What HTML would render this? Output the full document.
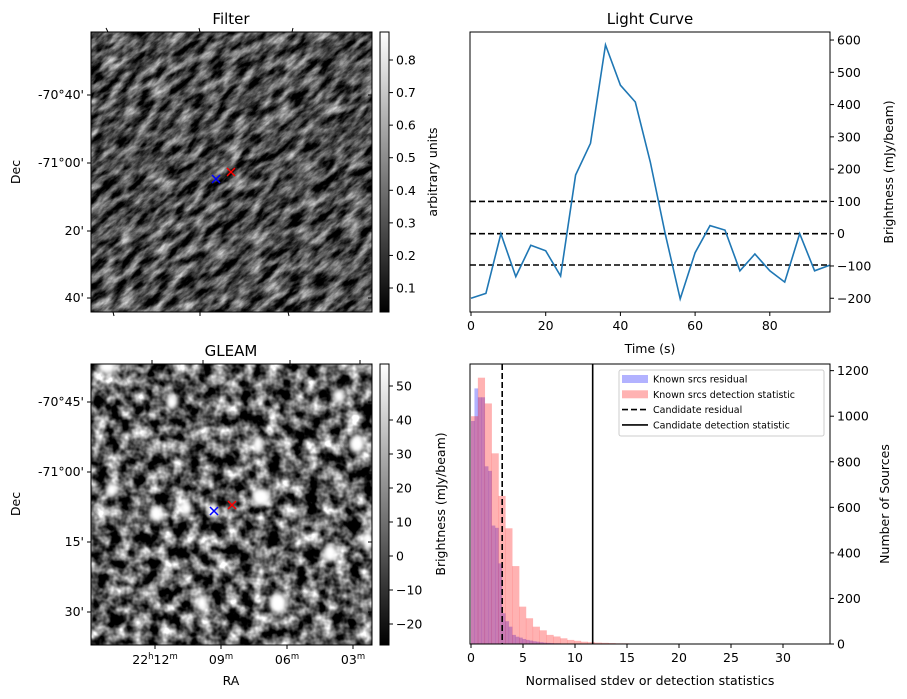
<!DOCTYPE html>
<html><head><meta charset="utf-8">
<style>
html,body{margin:0;padding:0;background:#fff;}
svg{display:block;font-family:"DejaVu Sans","Liberation Sans",sans-serif;}
</style></head>
<body>
<svg id="fig" width="907" height="699" viewBox="0 0 907 699" xmlns="http://www.w3.org/2000/svg">
<defs>
  <filter id="streaks" x="0" y="0" width="1" height="1" filterUnits="objectBoundingBox" color-interpolation-filters="sRGB">
    <feTurbulence type="fractalNoise" baseFrequency="0.05 0.13" numOctaves="4" seed="7"/>
    <feColorMatrix type="matrix" values="1.5 0 0 0 -0.45  1.5 0 0 0 -0.45  1.5 0 0 0 -0.45  0 0 0 0 1"/>
  </filter>
  <filter id="blobs" x="0" y="0" width="1" height="1" filterUnits="objectBoundingBox" color-interpolation-filters="sRGB">
    <feTurbulence type="fractalNoise" baseFrequency="0.075" numOctaves="3" seed="3"/>
    <feColorMatrix type="matrix" values="2.1 0 0 0 -0.68  2.1 0 0 0 -0.68  2.1 0 0 0 -0.68  0 0 0 0 1"/>
  </filter>
  <filter id="blur2"><feGaussianBlur stdDeviation="2.5"/></filter>
  <clipPath id="clipTop"><rect x="91" y="32" width="281" height="280"/></clipPath>
  <clipPath id="clipBot"><rect x="91" y="364" width="281" height="281"/></clipPath>
  <linearGradient id="cbar" x1="0" y1="1" x2="0" y2="0">
    <stop offset="0" stop-color="#000"/><stop offset="1" stop-color="#fff"/>
  </linearGradient>
</defs>

<g>
  <text x="231" y="24" font-size="15" text-anchor="middle">Filter</text>
  <g clip-path="url(#clipTop)">
    <rect x="91" y="32" width="281" height="280" fill="#444"/>
    <g transform="rotate(-40 231 172)">
      <rect x="-40" y="-60" width="540" height="470" filter="url(#streaks)"/>
    </g>
  </g>
  <rect x="91" y="32" width="281" height="280" fill="none" stroke="#000" stroke-width="1"/>
  <path d="M212 175 l8 8 M220 175 l-8 8" stroke="#00f" stroke-width="1.5"/>
  <path d="M227 168 l8 8 M235 168 l-8 8" stroke="#f00" stroke-width="1.5"/>
  <g font-size="12.5" text-anchor="end">
    <text x="84" y="99">-70°40'</text><text x="84" y="167">-71°00'</text>
    <text x="84" y="235">20'</text><text x="84" y="302">40'</text>
  </g>
  <g stroke="#000"><path d="M87 95h4M87 163h4M87 231h4M87 298h4M106 28l2 4M199 28l1 4M293 28l-1 4M113 312l1 4M200 312v4M288 312l1 4M368 95h4M368 163h4M368 231h4M368 298h4"/></g>
  <text transform="translate(20 172) rotate(-90)" font-size="12.5" text-anchor="middle">Dec</text>
  <rect x="380" y="32" width="9" height="280" fill="url(#cbar)" stroke="#000"/>
  <g id="cb1ticks" font-size="12.5"></g>
  <text transform="translate(437 172) rotate(-90)" font-size="12.5" text-anchor="middle">arbitrary units</text>
</g>

<g>
  <text x="231" y="356" font-size="15" text-anchor="middle">GLEAM</text>
  <g clip-path="url(#clipBot)">
    <rect x="91" y="364" width="281" height="281" fill="#555"/>
    <rect x="91" y="364" width="281" height="281" filter="url(#blobs)"/>
    <g fill="#fff" filter="url(#blur2)">
      <ellipse cx="107" cy="367" rx="9" ry="7"/><ellipse cx="172" cy="402" rx="6" ry="7"/>
      <ellipse cx="112" cy="490" rx="6" ry="7"/><ellipse cx="156" cy="514" rx="7" ry="8"/>
      <ellipse cx="186" cy="508" rx="6" ry="7"/><ellipse cx="213" cy="510" rx="5" ry="7"/>
      <ellipse cx="258" cy="444" rx="5" ry="9"/><ellipse cx="261" cy="497" rx="9" ry="9"/>
      <ellipse cx="357" cy="444" rx="8" ry="9"/><ellipse cx="339" cy="396" rx="6" ry="7"/>
      <ellipse cx="330" cy="553" rx="7" ry="9"/><ellipse cx="368" cy="541" rx="6" ry="9"/>
      <ellipse cx="278" cy="603" rx="9" ry="10"/><ellipse cx="202" cy="603" rx="6" ry="8"/>
    </g>
  </g>
  <rect x="91" y="364" width="281" height="281" fill="none" stroke="#000"/>
  <path d="M210 507 l8 8 M218 507 l-8 8" stroke="#00f" stroke-width="1.5"/>
  <path d="M228 501 l8 8 M236 501 l-8 8" stroke="#f00" stroke-width="1.5"/>
  <g font-size="12.5" text-anchor="end">
    <text x="84" y="406">-70°45'</text><text x="84" y="476">-71°00'</text>
    <text x="84" y="546">15'</text><text x="84" y="616">30'</text>
  </g>
  <g stroke="#000"><path d="M87 402h4M87 472h4M87 542h4M87 612h4M155 645v4M221 645v4M287 645v4M353 645v4M152 360v4M203 360v4M290 360v4M360 360v4M368 402h4M368 472h4M368 542h4M368 612h4"/></g>
  <g font-size="12.5" text-anchor="middle">
    <text x="155" y="664">22<tspan font-size="8.5" dy="-5">h</tspan><tspan dy="5">12</tspan><tspan font-size="8.5" dy="-5">m</tspan></text>
    <text x="221" y="664">09<tspan font-size="8.5" dy="-5">m</tspan></text>
    <text x="287" y="664">06<tspan font-size="8.5" dy="-5">m</tspan></text>
    <text x="353" y="664">03<tspan font-size="8.5" dy="-5">m</tspan></text>
  </g>
  <text x="231" y="685" font-size="12.5" text-anchor="middle">RA</text>
  <text transform="translate(20 504) rotate(-90)" font-size="12.5" text-anchor="middle">Dec</text>
  <rect x="380" y="364" width="9" height="281" fill="url(#cbar)" stroke="#000"/>
  <g id="cb2ticks" font-size="12.5"></g>
  <text transform="translate(445 504) rotate(-90)" font-size="12.5" text-anchor="middle">Brightness (mJy/beam)</text>
</g>

<g id="lc"></g>
<g id="hist"></g>
</svg>

<script>
// ---- Light curve data ----
const lcTimes = [0,4,8,12,16,20,24,28,32,36,40,44,48,52,56,60,64,68,72,76,80,84,88,92,96];
const lcFlux = [-200,-185,0,-133,-36,-53,-131,182,280,585,460,408,222,0,-202,-59,25,11,-115,-63,-115,-150,0,-115,-98];
const lcThresholds = [100,0,-97];
const lcXTicks = [0,20,40,60,80];
const lcYTicks = [-200,-100,0,100,200,300,400,500,600];

// ---- Histogram data ----
const redBinWidth = 0.66;
const redCounts = [1000,1169,1056,837,650,508,342,164,113,76,60,40,33,25,18,14,10,8,6,5,4,3,3,2,2,2,1,1,1,1,1,1,1,1,0,1,0,1,0,0,1,0,0,1,0,0,1,0,1];
const blueBinWidth = 0.33;
const blueCounts = [979,1122,1083,1083,780,760,520,510,354,135,100,76,40,32,28,22,18,15,12,10,8,6,5,4,3,3,2,2,2,1,1,1,1,1,1,0,1,0,1];
const candidateResidual = 3.0;
const candidateStat = 11.7;
const hXTicks = [0,5,10,15,20,25,30];
const hYTicks = [0,200,400,600,800,1000,1200];

const cb1Ticks = [0.1,0.2,0.3,0.4,0.5,0.6,0.7,0.8];
const cb2Ticks = [-20,-10,0,10,20,30,40,50];

const NS = "http://www.w3.org/2000/svg";
function mk(tag, attrs, parent){const e=document.createElementNS(NS,tag);for(const k in attrs)e.setAttribute(k,attrs[k]);parent.appendChild(e);return e;}
const FS = 12.5;

(function(){
  const g1=document.getElementById('cb1ticks');
  const y1=v=>288-(v-0.1)/0.1*32.57;
  cb1Ticks.forEach(v=>{
    mk('line',{x1:389,x2:393,y1:y1(v),y2:y1(v),stroke:'#000'},g1);
    const t=mk('text',{x:396,y:y1(v)+4.5},g1);t.textContent=v.toFixed(1);
    
    
  });
  const g2=document.getElementById('cb2ticks');
  const y2=v=>624-(v+20)/10*34;
  cb2Ticks.forEach(v=>{
    mk('line',{x1:389,x2:393,y1:y2(v),y2:y2(v),stroke:'#000'},g2);
    const t=mk('text',{x:396,y:y2(v)+4.5},g2);t.textContent=(v<0?'\u2212'+(-v):v);
    
    
  });
})();

(function(){
  const g=document.getElementById('lc');
  const L=470,R=830,T=32,B=312;
  const x=t=>471+t*3.735;
  const y=v=>233.7-v*0.3228;
  const title=mk('text',{x:650,y:24,'font-size':15,'text-anchor':'middle'},g);title.textContent='Light Curve';
  
  
  lcThresholds.forEach(v=>{
    const l=mk('line',{x1:L,x2:R,y1:y(v),y2:y(v),stroke:'#000','stroke-width':1.6,'stroke-dasharray':'6,3'},g);
    
    
  });
  const d=lcTimes.map((t,i)=>(i?'L':'M')+x(t).toFixed(1)+' '+y(lcFlux[i]).toFixed(1)).join(' ');
  const p=mk('path',{d:d,fill:'none',stroke:'#1f77b4','stroke-width':1.6},g);
  
  
  mk('rect',{x:L,y:T,width:R-L,height:B-T,fill:'none',stroke:'#000'},g);
  lcXTicks.forEach(v=>{
    mk('line',{x1:x(v),x2:x(v),y1:B,y2:B+4,stroke:'#000'},g);
    const t=mk('text',{x:x(v),y:B+18,'font-size':FS,'text-anchor':'middle'},g);t.textContent=v;
    
    
  });
  lcYTicks.forEach(v=>{
    mk('line',{x1:R,x2:R+4,y1:y(v),y2:y(v),stroke:'#000'},g);
    const t=mk('text',{x:R+7,y:y(v)+4.5,'font-size':FS},g);t.textContent=(v<0?'\u2212'+(-v):v);
    
    
  });
  const xl=mk('text',{x:650,y:353,'font-size':FS,'text-anchor':'middle'},g);xl.textContent='Time (s)';
  
  
  const yl=mk('text',{transform:'translate(893 172) rotate(-90)','font-size':FS,'text-anchor':'middle'},g);yl.textContent='Brightness (mJy/beam)';
  
  
})();

(function(){
  const g=document.getElementById('hist');
  const L=470,R=830,T=364,B=644;
  const x=v=>471+v*10.4;
  const y=c=>644-c*0.2278;
  const cl=mk('clipPath',{id:'hclip'},g);mk('rect',{x:L,y:T,width:R-L,height:B-T},cl);
  const bars=mk('g',{'clip-path':'url(#hclip)'},g);
  blueCounts.forEach((c,i)=>{
    if(!c)return;
    const r=mk('rect',{x:x(i*blueBinWidth),y:y(c),width:blueBinWidth*10.4+0.3,height:B-y(c),fill:'rgba(0,0,255,0.3)'},bars);
    
    
  });
  redCounts.forEach((c,i)=>{
    if(!c)return;
    const r=mk('rect',{x:x(i*redBinWidth),y:y(c),width:redBinWidth*10.4+0.3,height:B-y(c),fill:'rgba(255,0,0,0.3)'},bars);
    
    
  });
  const l1=mk('line',{x1:x(candidateResidual),x2:x(candidateResidual),y1:T,y2:B,stroke:'#000','stroke-width':1.6,'stroke-dasharray':'6,3'},g);
  
  
  const l2=mk('line',{x1:x(candidateStat),x2:x(candidateStat),y1:T,y2:B,stroke:'#000','stroke-width':1.6},g);
  
  
  mk('rect',{x:L,y:T,width:R-L,height:B-T,fill:'none',stroke:'#000'},g);
  hXTicks.forEach(v=>{
    mk('line',{x1:x(v),x2:x(v),y1:B,y2:B+4,stroke:'#000'},g);
    const t=mk('text',{x:x(v),y:B+18,'font-size':FS,'text-anchor':'middle'},g);t.textContent=v;
    
    
  });
  hYTicks.forEach(v=>{
    mk('line',{x1:R,x2:R+4,y1:y(v),y2:y(v),stroke:'#000'},g);
    const t=mk('text',{x:R+7,y:y(v)+4.5,'font-size':FS},g);t.textContent=v;
    
    
  });
  const xl=mk('text',{x:650,y:685,'font-size':FS,'text-anchor':'middle'},g);xl.textContent='Normalised stdev or detection statistics';
  
  
  const yl=mk('text',{transform:'translate(889 504) rotate(-90)','font-size':FS,'text-anchor':'middle'},g);yl.textContent='Number of Sources';
  
  
  const lg=mk('g',{},g);
  
  
  mk('rect',{x:619,y:370,width:205,height:66,rx:2,fill:'rgba(255,255,255,0.8)',stroke:'#ccc'},lg);
  const items=[['Known srcs residual','patch','rgba(0,0,255,0.3)'],['Known srcs detection statistic','patch','rgba(255,0,0,0.3)'],['Candidate residual','dash','#000'],['Candidate detection statistic','solid','#000']];
  items.forEach((it,i)=>{
    const yy=379+i*15.3;
    if(it[1]==='patch') mk('rect',{x:622,y:yy-4,width:26,height:8,fill:it[2]},lg);
    else mk('line',{x1:622,x2:648,y1:yy,y2:yy,stroke:'#000','stroke-width':1.6,'stroke-dasharray':it[1]==='dash'?'6,3':'none'},lg);
    const t=mk('text',{x:653,y:yy+3.5,'font-size':9.5},lg);t.textContent=it[0];
    
    
  });
})();
</script>
</body></html>
